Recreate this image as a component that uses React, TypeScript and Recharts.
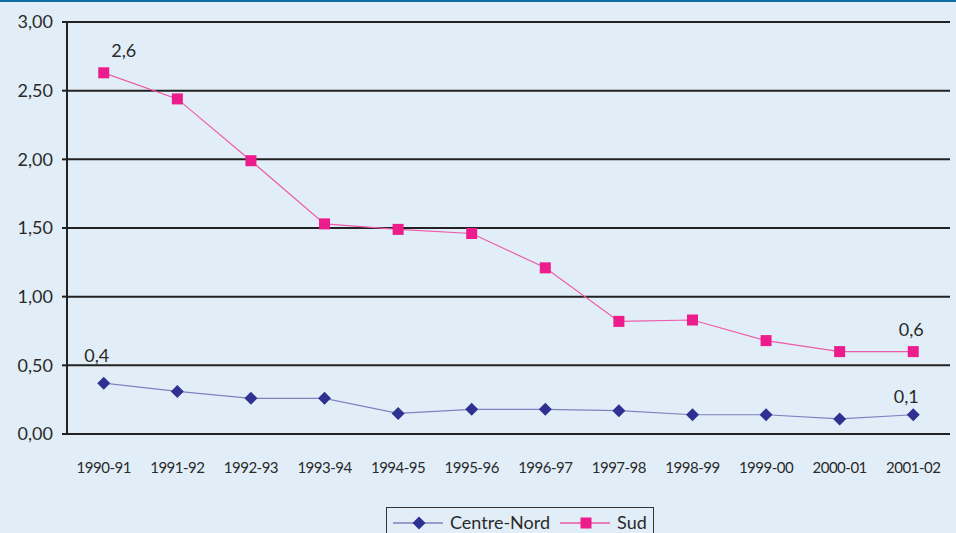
import React from 'react';
import {
  LineChart,
  Line,
  XAxis,
  YAxis,
  CartesianGrid,
  Legend,
  LabelList,
} from 'recharts';

const periods = [
  '1990-91', '1991-92', '1992-93', '1993-94', '1994-95', '1995-96',
  '1996-97', '1997-98', '1998-99', '1999-00', '2000-01', '2001-02',
];
const centreNord = [0.37, 0.31, 0.26, 0.26, 0.15, 0.18, 0.18, 0.17, 0.14, 0.14, 0.11, 0.14];
const sud = [2.63, 2.44, 1.99, 1.53, 1.49, 1.46, 1.21, 0.82, 0.83, 0.68, 0.6, 0.6];
const yTicks = [0, 0.5, 1, 1.5, 2, 2.5, 3];
const boundaryTicks = [0, 1, 2, 3, 4, 5, 6, 7, 8, 9, 10, 11, 12];
// only the first and last point carry a value label
const labelled = [0, periods.length - 1];

const data = periods.map((p, i) => ({ period: p, centreNord: centreNord[i], sud: sud[i] }));

const FONT = 'Lato, "Liberation Sans", sans-serif';
const PINK = '#ec1c8c';
const NAVY = '#2e3192';
const INK = '#2a2a2a';

const fmt = (v: number, d: number) => v.toFixed(d).replace('.', ',');

const Square = (props: any) => {
  const { cx, cy } = props;
  if (cx == null || cy == null) return null;
  return <rect x={cx - 5.5} y={cy - 5.5} width={11} height={11} fill={PINK} />;
};

const Diamond = (props: any) => {
  const { cx, cy } = props;
  if (cx == null || cy == null) return null;
  return <path d={`M${cx},${cy - 6.5}L${cx + 6.5},${cy}L${cx},${cy + 6.5}L${cx - 6.5},${cy}Z`} fill={NAVY} />;
};

const makeLabel = (offsets: Record<number, [number, number]>) => (props: any) => {
  const { x, y, value, index } = props;
  if (!labelled.includes(index)) return null;
  const [dx, dy] = offsets[index];
  return (
    <text x={x + dx} y={y + dy} textAnchor="middle" fontFamily={FONT} fontSize={18} fill={INK}>
      {fmt(value, 1)}
    </text>
  );
};

const sudLabel = makeLabel({ 0: [20, -16], 11: [-2, -16] });
const cnLabel = makeLabel({ 0: [-7, -21], 11: [-7, -12] });

const LegendBox = () => (
  <div
    style={{
      position: 'absolute',
      left: 386,
      top: 505,
      width: 268,
      height: 40,
      border: '1px solid #333',
      display: 'flex',
      alignItems: 'flex-start',
      paddingTop: 3,
      boxSizing: 'border-box',
      fontFamily: FONT,
      fontSize: 18,
      color: INK,
    }}
  >
    <svg width={54} height={20} style={{ marginLeft: 6 }}>
      <line x1={0} y1={12} x2={50} y2={12} stroke="#8080c0" strokeWidth={1.5} />
      <Diamond cx={26} cy={12} />
    </svg>
    <span style={{ marginLeft: 3 }}>Centre-Nord</span>
    <svg width={54} height={20} style={{ marginLeft: 10 }}>
      <line x1={0} y1={12} x2={50} y2={12} stroke="#ee5aa8" strokeWidth={1.5} />
      <Square cx={26} cy={12} />
    </svg>
    <span style={{ marginLeft: 3 }}>Sud</span>
  </div>
);

export default function App() {
  return (
    <div
      style={{
        position: 'fixed',
        left: 0,
        top: 0,
        width: 956,
        height: 533,
        background: '#e2eef7',
        borderTop: '2px solid #0f6fa0',
        boxSizing: 'border-box',
        overflow: 'hidden',
      }}
    >
      <LineChart
        width={956}
        height={531}
        data={data}
        margin={{ top: 20, right: 6, left: 0, bottom: 59 }}
      >
        <CartesianGrid vertical={false} stroke="#222" strokeWidth={2} />
        <XAxis
          xAxisId="marks"
          type="number"
          domain={[0, 12]}
          ticks={boundaryTicks}
          tickFormatter={() => ''}
          tickSize={6}
          height={0}
          axisLine={{ stroke: '#222', strokeWidth: 2 }}
          tickLine={{ stroke: '#222', strokeWidth: 2 }}
        />
        <XAxis
          dataKey="period"
          padding={{ left: 36.75, right: 36.75 }}
          interval={0}
          height={40}
          axisLine={false}
          tickLine={false}
          tickMargin={22}
          tick={{ fontFamily: FONT, fontSize: 15, fill: INK, letterSpacing: -0.5 }}
        />
        <YAxis
          domain={[0, 3]}
          ticks={yTicks}
          width={67}
          tickFormatter={(v: number) => fmt(v, 2)}
          tickSize={5}
          tickMargin={9}
          axisLine={{ stroke: '#222', strokeWidth: 2 }}
          tickLine={{ stroke: '#222', strokeWidth: 2 }}
          tick={{ fontFamily: FONT, fontSize: 18, fill: INK }}
        />
        <YAxis
          yAxisId="right"
          orientation="right"
          width={0}
          tick={false}
          tickLine={false}
          axisLine={{ stroke: '#222', strokeWidth: 2 }}
        />
        <Line
          dataKey="centreNord"
          name="Centre-Nord"
          stroke="#8080c0"
          strokeWidth={1.2}
          dot={<Diamond />}
          activeDot={false}
          isAnimationActive={false}
        >
          <LabelList dataKey="centreNord" content={cnLabel} />
        </Line>
        <Line
          dataKey="sud"
          name="Sud"
          stroke="#ee5aa8"
          strokeWidth={1.2}
          dot={<Square />}
          activeDot={false}
          isAnimationActive={false}
        >
          <LabelList dataKey="sud" content={sudLabel} />
        </Line>
        <Legend content={() => null} />
      </LineChart>
      <LegendBox />
    </div>
  );
}
